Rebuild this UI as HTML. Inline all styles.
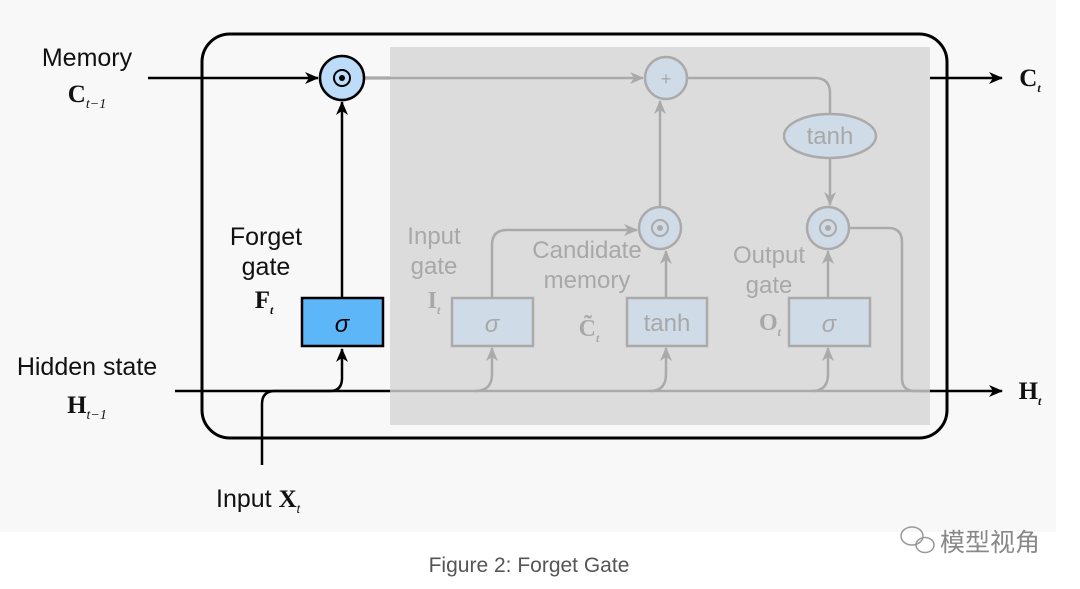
<!DOCTYPE html>
<html><head><meta charset="utf-8"><style>
html,body{margin:0;padding:0;background:#fff;width:1080px;height:589px;overflow:hidden}
</style></head><body>
<svg width="1080" height="589" xmlns="http://www.w3.org/2000/svg" font-family="Liberation Sans, sans-serif">
<defs>
<marker id="a" markerWidth="14" markerHeight="12" refX="13" refY="6" orient="auto" markerUnits="userSpaceOnUse"><path d="M0,0 L14,6 L0,12 L4,6z" fill="#000"/></marker>
<marker id="g" markerWidth="14" markerHeight="12" refX="13" refY="6" orient="auto" markerUnits="userSpaceOnUse"><path d="M0,0 L14,6 L0,12 L4,6z" fill="#aaa"/></marker>
</defs>
<rect x="0" y="0" width="1056" height="532" fill="#f8f8f8"/>
<rect x="202" y="34" width="745" height="404" rx="28" fill="none" stroke="#000" stroke-width="3"/>
<line x1="148" y1="78" x2="318" y2="78" stroke="#000" stroke-width="2.5" marker-end="url(#a)"/>
<line x1="342" y1="298" x2="342" y2="102" stroke="#000" stroke-width="2.5" marker-end="url(#a)"/>
<line x1="175" y1="391" x2="400" y2="391" stroke="#000" stroke-width="2.5"/>
<path d="M262,465 L262,404 Q262,391 275,391 L330,391 Q342,391 342,378 L342,349" fill="none" stroke="#000" stroke-width="2.5" marker-end="url(#a)"/>
<line x1="364" y1="78" x2="400" y2="78" stroke="#000" stroke-width="2.5"/>
<rect x="390" y="47" width="540" height="378" fill="#dcdcdc"/>
<g stroke="#aaa" stroke-width="2.5" fill="none">
<line x1="364" y1="78" x2="643" y2="78" marker-end="url(#g)"/>
<path d="M687,78 L815,78 Q830,78 830,93 L830,114"/>
<line x1="830" y1="158" x2="830" y2="205" marker-end="url(#g)"/>
<line x1="666" y1="298" x2="666" y2="251" marker-end="url(#g)"/>
<line x1="660" y1="206" x2="660" y2="101" marker-end="url(#g)"/>
<path d="M492,298 L492,245 Q492,230 507,230 L637,230" marker-end="url(#g)"/>
<line x1="828" y1="298" x2="828" y2="251" marker-end="url(#g)"/>
<path d="M850,228 L888,228 Q902,228 902,242 L902,378 Q902,391 915,391 L930,391"/>
<line x1="390" y1="391" x2="930" y2="391"/>
<path d="M475,391 Q492,391 492,374 L492,348" marker-end="url(#g)"/>
<path d="M650,391 Q666,391 666,374 L666,348" marker-end="url(#g)"/>
<path d="M812,391 Q828,391 828,374 L828,348" marker-end="url(#g)"/>
</g>
<g stroke="#aaa" stroke-width="2.5" fill="#cfdbe6">
<circle cx="666" cy="78" r="21"/>
<circle cx="660" cy="228" r="21"/>
<circle cx="828" cy="228" r="21"/>
<ellipse cx="830" cy="136" rx="46" ry="22"/>
<rect x="452" y="298" width="81" height="48"/>
<rect x="627" y="298" width="80" height="48"/>
<rect x="789" y="298" width="81" height="48"/>
</g>
<g fill="#aaa"><circle cx="660" cy="228" r="3"/><circle cx="828" cy="228" r="3"/></g>
<g fill="none" stroke="#aaa" stroke-width="2"><circle cx="660" cy="228" r="8"/><circle cx="828" cy="228" r="8"/></g>
<g fill="#a8a8a8" font-size="24" text-anchor="middle">
<text x="666" y="85" font-size="18">+</text>
<text x="830" y="144">tanh</text>
<text x="667" y="331">tanh</text>
<text x="492" y="332" font-style="italic">σ</text>
<text x="829" y="332" font-style="italic">σ</text>
<text x="434" y="244">Input</text>
<text x="434" y="274">gate</text>
<text x="587" y="258">Candidate</text>
<text x="587" y="288">memory</text>
<text x="769" y="263">Output</text>
<text x="769" y="293">gate</text>
<text x="434" y="308" font-family="Liberation Serif, serif" font-weight="bold">I<tspan font-size="12" font-style="italic" dy="6">t</tspan></text>
<text x="589" y="336" font-family="Liberation Serif, serif" font-weight="bold">C̃<tspan font-size="12" font-style="italic" dy="6">t</tspan></text>
<text x="770" y="330" font-family="Liberation Serif, serif" font-weight="bold">O<tspan font-size="12" font-style="italic" dy="6">t</tspan></text>
</g>
<line x1="930" y1="78" x2="1002" y2="78" stroke="#000" stroke-width="2.5" marker-end="url(#a)"/>
<line x1="930" y1="391" x2="1002" y2="391" stroke="#000" stroke-width="2.5" marker-end="url(#a)"/>
<circle cx="342" cy="78" r="22" fill="#bcdcfa" stroke="#000" stroke-width="2.5"/>
<circle cx="342" cy="78" r="8" fill="none" stroke="#000" stroke-width="2"/>
<circle cx="342" cy="78" r="3" fill="#000"/>
<rect x="302" y="298" width="81" height="48" fill="#5cb6f8" stroke="#000" stroke-width="2.5"/>
<text x="342" y="332" font-size="24" font-style="italic" text-anchor="middle">σ</text>
<g font-size="25" fill="#111" text-anchor="middle">
<text x="87" y="66">Memory</text>
<text x="87" y="102" font-family="Liberation Serif, serif" font-weight="bold">C<tspan font-size="14" font-weight="normal" font-style="italic" dy="6">t−1</tspan></text>
<text x="266" y="245">Forget</text>
<text x="266" y="275">gate</text>
<text x="264" y="308" font-family="Liberation Serif, serif" font-weight="bold">F<tspan font-size="12" font-style="italic" dy="6">t</tspan></text>
<text x="87" y="375">Hidden state</text>
<text x="87" y="413" font-family="Liberation Serif, serif" font-weight="bold">H<tspan font-size="14" font-weight="normal" font-style="italic" dy="6">t−1</tspan></text>
<text x="258" y="507">Input <tspan font-family="Liberation Serif, serif" font-weight="bold">X</tspan><tspan font-size="12" font-style="italic" dy="6">t</tspan></text>
<text x="1030" y="86" font-family="Liberation Serif, serif" font-weight="bold">C<tspan font-size="12" font-style="italic" dy="6">t</tspan></text>
<text x="1030" y="399" font-family="Liberation Serif, serif" font-weight="bold">H<tspan font-size="12" font-style="italic" dy="6">t</tspan></text>
</g>
<text x="529" y="572" font-size="21" fill="#555" text-anchor="middle">Figure 2: Forget Gate</text>
<g fill="none" stroke="#999" stroke-width="1.5"><ellipse cx="912" cy="536" rx="11" ry="9"/><ellipse cx="925" cy="545" rx="9" ry="7.5"/></g>
<text x="940" y="551" font-size="25" fill="#888" font-family="Liberation Sans, Noto Sans CJK SC, sans-serif">模型视角</text>
</svg>
</body></html>
